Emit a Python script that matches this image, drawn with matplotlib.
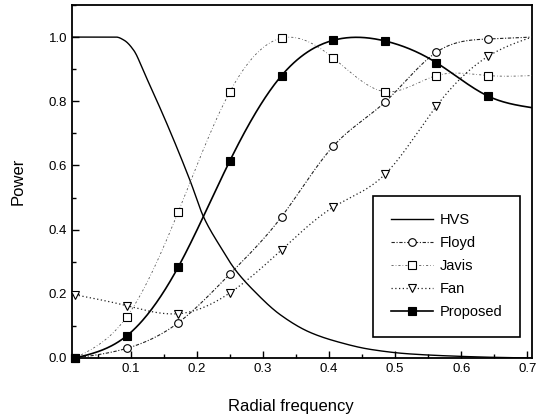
import numpy as np
import matplotlib
matplotlib.use("Agg")
import matplotlib.pyplot as plt
from matplotlib.lines import Line2D
from matplotlib.ticker import MultipleLocator

plt.rcParams['font.family'] = ['Liberation Sans', 'DejaVu Sans']

# ---- data ----
freq = [0.0156, 0.0938, 0.1719, 0.25, 0.3281, 0.4063, 0.4844, 0.5625, 0.6406]
freq_edge = 0.707
floyd = [0.0, 0.03, 0.11, 0.262, 0.44, 0.66, 0.797, 0.953, 0.994]
floyd_edge = 1.0
javis = [0.0, 0.128, 0.456, 0.83, 0.997, 0.935, 0.83, 0.88, 0.88]
javis_edge = 0.88
fan = [0.197, 0.163, 0.138, 0.203, 0.337, 0.47, 0.572, 0.785, 0.94]
fan_edge = 1.0
proposed = [0.0, 0.069, 0.284, 0.615, 0.88, 0.99, 0.988, 0.92, 0.816]
proposed_edge = 0.78

hvs_x = [0.011, 0.078, 0.09, 0.105, 0.12, 0.155, 0.19, 0.21, 0.236, 0.258,
         0.286, 0.326, 0.371, 0.412, 0.462, 0.52, 0.6, 0.65, 0.707]
hvs_y = [1.0, 1.0, 0.99, 0.957, 0.89, 0.728, 0.551, 0.44, 0.345, 0.275,
         0.21, 0.135, 0.08, 0.051, 0.027, 0.013, 0.005, 0.002, 0.0]

xticks = [0.1, 0.2, 0.3, 0.4, 0.5, 0.6, 0.7]
yticks = [0.0, 0.2, 0.4, 0.6, 0.8, 1.0]


def natural_spline(x, y, xs):
    x = np.asarray(x, float); y = np.asarray(y, float)
    n = len(x); h = np.diff(x)
    A = np.zeros((n, n)); b = np.zeros(n)
    A[0, 0] = 1; A[-1, -1] = 1
    for i in range(1, n - 1):
        A[i, i - 1] = h[i - 1]; A[i, i] = 2 * (h[i - 1] + h[i]); A[i, i + 1] = h[i]
        b[i] = 6 * ((y[i + 1] - y[i]) / h[i] - (y[i] - y[i - 1]) / h[i - 1])
    M = np.linalg.solve(A, b)
    idx = np.clip(np.searchsorted(x, xs) - 1, 0, n - 2)
    x0 = x[idx]; x1 = x[idx + 1]; hh = x1 - x0
    t0 = x1 - xs; t1 = xs - x0
    return (M[idx] * t0 ** 3 / (6 * hh) + M[idx + 1] * t1 ** 3 / (6 * hh)
            + (y[idx] / hh - M[idx] * hh / 6) * t0 + (y[idx + 1] / hh - M[idx + 1] * hh / 6) * t1)


def pchip(x, y, xs):
    x = np.asarray(x, float); y = np.asarray(y, float)
    h = np.diff(x); d = np.diff(y) / h
    n = len(x); m = np.zeros(n)
    for i in range(1, n - 1):
        if d[i - 1] * d[i] <= 0:
            m[i] = 0
        else:
            w1 = 2 * h[i] + h[i - 1]; w2 = h[i] + 2 * h[i - 1]
            m[i] = (w1 + w2) / (w1 / d[i - 1] + w2 / d[i])
    m[0] = d[0]; m[-1] = d[-1]
    idx = np.clip(np.searchsorted(x, xs) - 1, 0, n - 2)
    t = (xs - x[idx]) / h[idx]
    h00 = 2 * t ** 3 - 3 * t ** 2 + 1; h10 = t ** 3 - 2 * t ** 2 + t
    h01 = -2 * t ** 3 + 3 * t ** 2; h11 = t ** 3 - t ** 2
    return h00 * y[idx] + h10 * h[idx] * m[idx] + h01 * y[idx + 1] + h11 * h[idx] * m[idx + 1]


fig = plt.figure(figsize=(5.36, 4.19), dpi=100)
ax = fig.add_axes([0.1343, 0.1456, 0.8582, 0.8425])

xs = np.linspace(freq[0], freq_edge, 400)
hx = np.linspace(hvs_x[0], hvs_x[-1], 500)

ax.plot(hx, pchip(hvs_x, hvs_y, hx), color='black', lw=1.0, zorder=3)

styles = {
    'Floyd': dict(ls=(0, (3, 1.5, 1, 1.5)), lw=0.8, color='#222222', marker='o', mfc='white'),
    'Javis': dict(ls=(0, (2.5, 2.5, 0.8, 2.5)), lw=0.6, color='#555555', marker='s', mfc='white'),
    'Fan': dict(ls=(0, (1, 2)), lw=0.9, color='#222222', marker='v', mfc='white'),
    'Proposed': dict(ls='-', lw=1.2, color='black', marker='s', mfc='black'),
}
series = {'Floyd': (floyd, floyd_edge), 'Javis': (javis, javis_edge),
          'Fan': (fan, fan_edge), 'Proposed': (proposed, proposed_edge)}

for name, (vals, edge) in series.items():
    st = styles[name]
    px = list(freq) + [freq_edge]
    py = list(vals) + [edge]
    z = 5 if name == 'Proposed' else 4
    ax.plot(xs, natural_spline(px, py, xs), ls=st['ls'], lw=st['lw'], color=st['color'], zorder=z)
    ax.plot(freq, vals, ls='none', marker=st['marker'], ms=5.5 if st['marker'] != 'v' else 6,
            mfc=st['mfc'], mec='black', mew=0.8, zorder=z + 2, clip_on=False)

handles = [Line2D([], [], color='black', lw=1.0)]
labels = ['HVS']
for name in ['Floyd', 'Javis', 'Fan', 'Proposed']:
    st = styles[name]
    handles.append(Line2D([], [], ls=st['ls'], lw=st['lw'], color=st['color'], marker=st['marker'],
                          ms=5.5, mfc=st['mfc'], mec='black', mew=0.8))
    labels.append(name)

leg = ax.legend(handles, labels, loc='lower right', bbox_to_anchor=(0.974, 0.0595),
                borderaxespad=0, fancybox=False, edgecolor='black', framealpha=1,
                fontsize=10.5, handlelength=2.9, handletextpad=0.45, labelspacing=0.62,
                borderpad=1.2)
leg.get_frame().set_linewidth(1.2)

ax.set_xlim(0.011, 0.707)
ax.set_ylim(0, 1.1)
ax.set_xticks(xticks)
ax.set_yticks(yticks)
ax.set_xticklabels([f"{v:.1f}" for v in xticks])
ax.set_yticklabels([f"{v:.1f}" for v in yticks])
ax.xaxis.set_minor_locator(MultipleLocator(0.05))
ax.yaxis.set_minor_locator(MultipleLocator(0.1))
ax.tick_params(which='both', direction='in', top=False, right=False, labelsize=9.5, width=1.0)
ax.tick_params(which='major', length=5)
ax.tick_params(which='minor', length=3)
for s in ax.spines.values():
    s.set_linewidth(1.3)

ax.set_xlabel('Radial frequency', fontsize=12)
ax.set_ylabel('Power', fontsize=12)
ax.xaxis.set_label_coords(0.476, -0.115)
ax.yaxis.set_label_coords(-0.1, 0.5)

fig.savefig('out.png', dpi=100)
